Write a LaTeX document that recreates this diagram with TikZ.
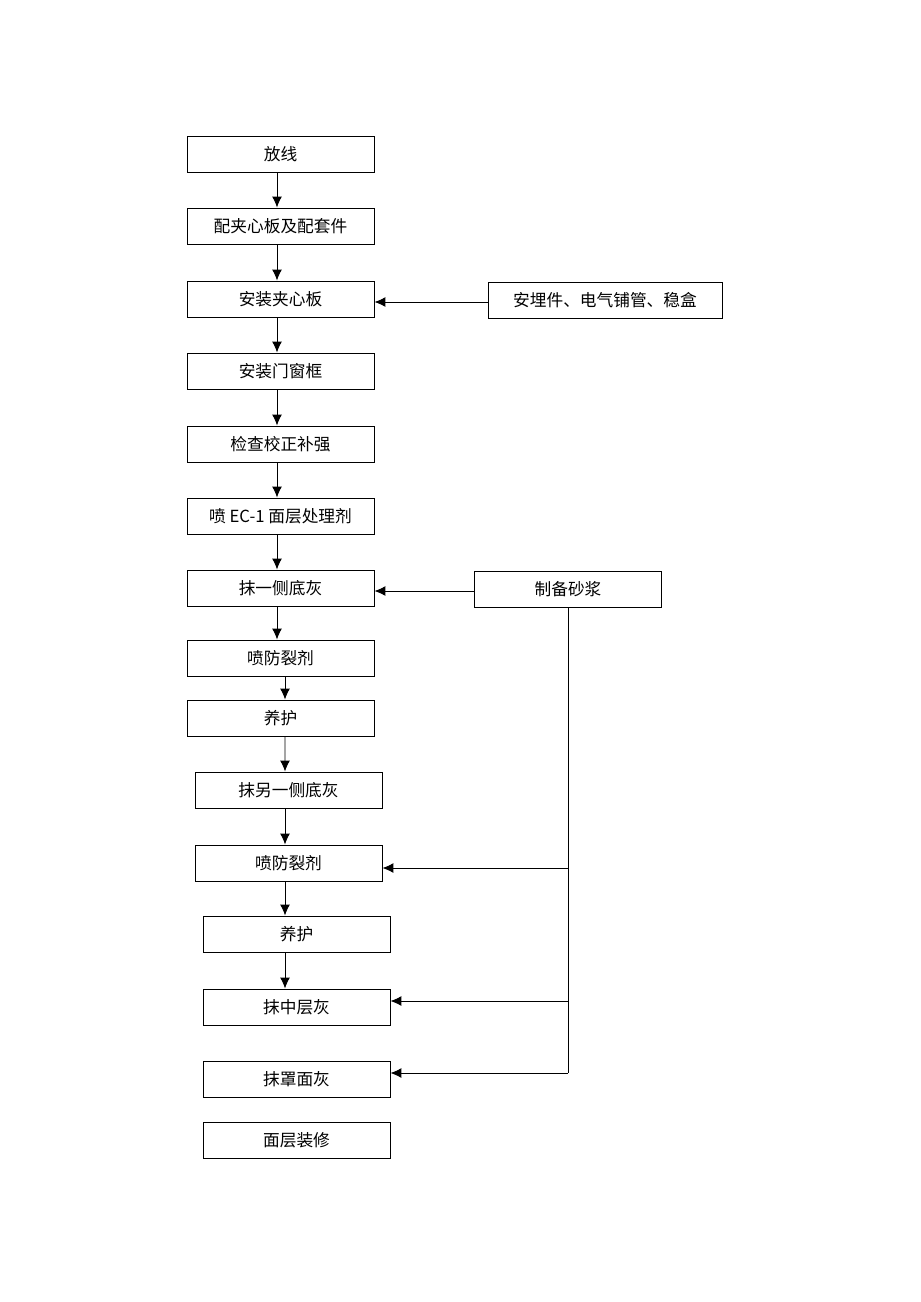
\documentclass[tikz,border=0pt]{standalone}
\usepackage{fontspec}
\setmainfont{Liberation Serif}
\newfontfamily\cjk{Noto Sans CJK SC}
\usetikzlibrary{arrows.meta}

\begin{document}
\begin{tikzpicture}[x=0.02cm, y=-0.02cm,
		stepbox/.style={draw, line width=0.55pt, inner sep=0pt, minimum width=3.74cm, minimum height=0.72cm, font=\cjk\fontsize{9.5}{11}\selectfont},
		widebox/.style={stepbox, minimum width=4.68cm},
		flow/.style={line width=0.55pt, -{Latex[length=2.2mm, width=2mm]}},
		feed/.style={line width=0.55pt}]
			\useasboundingbox (0, 0) rectangle (920, 1302);
			
			\node[stepbox] (p1) at (280.5, 154) {放线};
			\node[stepbox] (p2) at (280.5, 226) {配夹心板及配套件};
			\node[stepbox] (p3) at (280.5, 299) {安装夹心板};
			\node[stepbox] (p4) at (280.5, 371) {安装门窗框};
			\node[stepbox] (p5) at (280.5, 444) {检查校正补强};
			\node[stepbox] (p6) at (280.5, 516) {{\cjk 喷} EC-1 {\cjk 面层处理剂}};
			\node[stepbox] (p7) at (280.5, 588) {抹一侧底灰};
			\node[stepbox] (p8) at (280.5, 658) {喷防裂剂};
			\node[stepbox] (p9) at (280.5, 718) {养护};
			\node[stepbox] (p10) at (288.5, 790) {抹另一侧底灰};
			\node[stepbox] (p11) at (288.5, 863) {喷防裂剂};
			\node[stepbox] (p12) at (296.5, 934) {养护};
			\node[stepbox] (p13) at (296.5, 1007) {抹中层灰};
			\node[stepbox] (p14) at (296.5, 1079) {抹罩面灰};
			\node[stepbox] (p15) at (296.5, 1140) {面层装修};
			
			\node[widebox] (embed) at (605, 300) {安埋件、电气铺管、稳盒};
			\node[stepbox] (mortar) at (568, 589) {制备砂浆};
			
			% branch points on the mortar line
			\coordinate (b11) at (568, 868);
			\coordinate (b13) at (568, 1001);
			\coordinate (b14) at (568, 1073);
			
			% main chain
			\draw[flow] ([xshift=-3.5*0.02cm]p1.south) -- ([xshift=-3.5*0.02cm]p2.north);
			\draw[flow] ([xshift=-3.5*0.02cm]p2.south) -- ([xshift=-3.5*0.02cm]p3.north);
			\draw[flow] ([xshift=-3.5*0.02cm]p3.south) -- ([xshift=-3.5*0.02cm]p4.north);
			\draw[flow] ([xshift=-3.5*0.02cm]p4.south) -- ([xshift=-3.5*0.02cm]p5.north);
			\draw[flow] ([xshift=-3.5*0.02cm]p5.south) -- ([xshift=-3.5*0.02cm]p6.north);
			\draw[flow] ([xshift=-3.5*0.02cm]p6.south) -- ([xshift=-3.5*0.02cm]p7.north);
			\draw[flow] ([xshift=-3.5*0.02cm]p7.south) -- ([xshift=-3.5*0.02cm]p8.north);
			\draw[flow] ([xshift=4.5*0.02cm]p8.south) -- ([xshift=4.5*0.02cm]p9.north);
			\draw[flow] ([xshift=4.5*0.02cm]p9.south) -- ([xshift=-3.5*0.02cm]p10.north);
			\draw[flow] ([xshift=-3.5*0.02cm]p10.south) -- ([xshift=-3.5*0.02cm]p11.north);
			\draw[flow] ([xshift=-3.5*0.02cm]p11.south) -- ([xshift=-11.5*0.02cm]p12.north);
			\draw[flow] ([xshift=-11.5*0.02cm]p12.south) -- ([xshift=-11.5*0.02cm]p13.north);
			
			% side feeds
			\draw[flow] ([yshift=-2*0.02cm]embed.west) -- ([yshift=-2*0.02cm]embed.west -| p3.east);
			\draw[flow] ([yshift=-2*0.02cm]mortar.west) -- ([yshift=-2*0.02cm]mortar.west -| p7.east);
			\draw[feed] (mortar.south) -- (b14);
			\draw[flow] (b11) -- (b11 -| p11.east);
			\draw[flow] (b13) -- (b13 -| p13.east);
			\draw[flow] (b14) -- (b14 -| p14.east);
		\end{tikzpicture}
\end{document}
